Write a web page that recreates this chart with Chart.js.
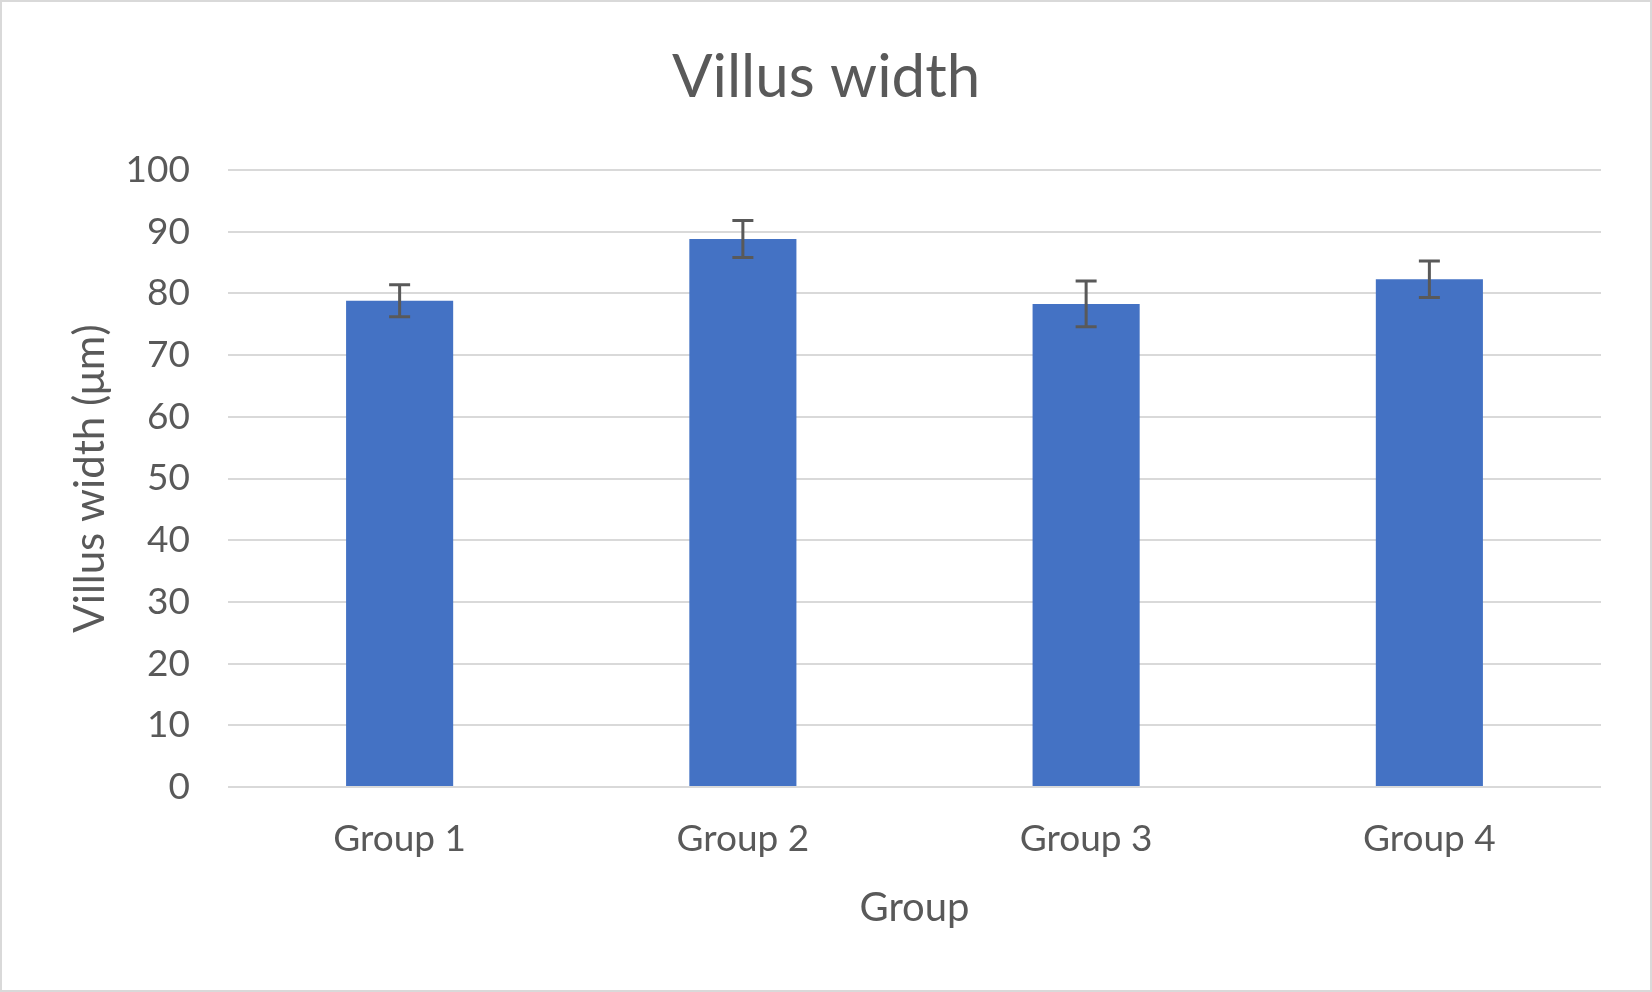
<!DOCTYPE html>
<html>
<head>
<meta charset="utf-8">
<script src="https://cdn.jsdelivr.net/npm/chart.js@4.4.1/dist/chart.umd.min.js"></script>
<style>
  html, body { margin: 0; padding: 0; background: #ffffff; }
  #wrap { width: 1652px; height: 992px; position: relative; }
  canvas { display: block; }
</style>
</head>
<body>
<div id="wrap"><canvas id="c" width="1652" height="992"></canvas></div>
<script>
const categories = ["Group 1", "Group 2", "Group 3", "Group 4"];
const villusWidth = [78.8, 88.8, 78.3, 82.3];
const errorValues = [2.6, 3.0, 3.7, 2.95];
const yTicks = [0, 10, 20, 30, 40, 50, 60, 70, 80, 90, 100];

const FONT = "Lato, 'Open Sans', sans-serif";
const TEXT = "#595959";

const backgroundBorder = {
  id: "backgroundBorder",
  beforeDraw(chart) {
    const ctx = chart.ctx;
    ctx.save();
    ctx.fillStyle = "#ffffff";
    ctx.fillRect(0, 0, chart.width, chart.height);
    ctx.strokeStyle = "#d9d9d9";
    ctx.lineWidth = 2;
    ctx.strokeRect(1, 1, chart.width - 2, chart.height - 2);
    ctx.restore();
  }
};

const errorBars = {
  id: "errorBars",
  afterDatasetsDraw(chart) {
    const ctx = chart.ctx;
    const meta = chart.getDatasetMeta(0);
    const y = chart.scales.y;
    ctx.save();
    ctx.strokeStyle = "#595959";
    ctx.lineWidth = 3;
    meta.data.forEach((bar, i) => {
      const v = villusWidth[i];
      const e = errorValues[i];
      const x = bar.x;
      const yt = y.getPixelForValue(v + e);
      const yb = y.getPixelForValue(v - e);
      const cap = 10.5;
      ctx.beginPath();
      ctx.moveTo(x, yt); ctx.lineTo(x, yb);
      ctx.moveTo(x - cap, yt); ctx.lineTo(x + cap, yt);
      ctx.moveTo(x - cap, yb); ctx.lineTo(x + cap, yb);
      ctx.stroke();
    });
    ctx.restore();
  }
};

new Chart(document.getElementById("c"), {
  type: "bar",
  data: {
    labels: categories,
    datasets: [{
      label: "Villus width",
      data: villusWidth,
      backgroundColor: "#4472c4",
      borderWidth: 0,
      categoryPercentage: 1.0,
      barPercentage: 0.312
    }]
  },
  options: {
    responsive: false,
    animation: false,
    devicePixelRatio: 1,
    layout: { padding: { left: 0, right: 0, top: 0, bottom: 0 } },
    plugins: {
      legend: { display: false },
      tooltip: { enabled: false },
      title: {
        display: true,
        text: "Villus width",
        color: TEXT,
        font: { family: FONT, size: 60, weight: "normal", lineHeight: 1.2 },
        padding: { top: 42, bottom: 56 }
      }
    },
    scales: {
      x: {
        grid: { display: false, drawTicks: false },
        border: { display: false },
        ticks: {
          color: TEXT,
          font: { family: FONT, size: 37 },
          padding: 30
        },
        title: {
          display: true,
          text: "Group",
          color: TEXT,
          font: { family: FONT, size: 40, lineHeight: 1.2 },
          padding: { top: 0, bottom: 60 }
        },
        afterFit(scale) { scale.height = 205; }
      },
      y: {
        min: 0,
        max: 100,
        afterBuildTicks(scale) { scale.ticks = yTicks.map(v => ({ value: v })); },
        grid: { color: "#d9d9d9", lineWidth: 2, drawTicks: false },
        border: { display: false },
        ticks: {
          color: TEXT,
          font: { family: FONT, size: 37 },
          padding: 38
        },
        title: {
          display: true,
          text: "Villus width (μm)",
          color: TEXT,
          font: { family: FONT, size: 42, lineHeight: 1.2 },
          padding: { top: 65, bottom: 0 }
        },
        afterFit(scale) { scale.width = 228; }
      },
      yRight: {
        position: "right",
        display: true,
        min: 0,
        max: 100,
        grid: { display: false, drawTicks: false },
        border: { display: false },
        ticks: { display: false },
        afterFit(scale) { scale.width = 51; }
      }
    }
  },
  plugins: [backgroundBorder, errorBars]
});
</script>
</body>
</html>
